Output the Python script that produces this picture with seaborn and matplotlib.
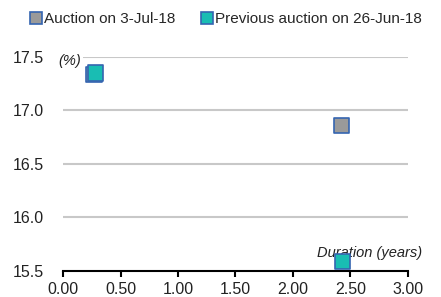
import matplotlib
matplotlib.use("Agg")
import matplotlib.pyplot as plt
from matplotlib.lines import Line2D
import seaborn as sns
import pandas as pd

# data
series_names = ["Auction on 3-Jul-18", "Previous auction on 26-Jun-18"]
duration_jul = [0.27, 2.42]
yield_jul = [17.34, 16.86]
duration_jun = [0.28, 2.43]
yield_jun = [17.35, 15.59]
x_ticks = [0.0, 0.5, 1.0, 1.5, 2.0, 2.5, 3.0]
y_ticks = [15.5, 16.0, 16.5, 17.0, 17.5]

df = pd.DataFrame({
    "Duration": duration_jul + duration_jun,
    "Yield": yield_jul + yield_jun,
    "Series": [series_names[0]] * len(duration_jul) + [series_names[1]] * len(duration_jun),
})

sns.set_style("white")
plt.rcParams["font.family"] = ["Liberation Sans", "DejaVu Sans"]

fig = plt.figure(figsize=(4.41, 2.97), dpi=100)
ax = fig.add_axes([0.143, 0.088, 0.782, 0.72])

palette = {series_names[0]: "#9a9a9a", series_names[1]: "#19bdb3"}
sns.scatterplot(data=df, x="Duration", y="Yield", hue="Series", palette=palette,
                marker="s", s=120, edgecolor="#3565b0", linewidth=1.2,
                ax=ax, zorder=3, legend=False)

ax.set_xlim(0, 3)
ax.set_ylim(15.5, 17.5)
ax.set_xticks(x_ticks)
ax.set_xticklabels([f"{v:.2f}" for v in x_ticks], fontsize=11.5, color="#222222")
ax.set_yticks(y_ticks)
ax.set_yticklabels([f"{v:.1f}" for v in y_ticks], fontsize=11.5, color="#222222")
ax.set_xlabel("")
ax.set_ylabel("")

for v in y_ticks[1:]:
    ax.axhline(v, color="#c8c8c8", lw=1.5, zorder=1)

for s in ["left", "right", "top"]:
    ax.spines[s].set_visible(False)
ax.spines["bottom"].set_color("black")
ax.spines["bottom"].set_linewidth(1.5)
ax.tick_params(axis="x", bottom=True, direction="out", length=4, width=1.5,
               color="black", pad=4)
ax.tick_params(axis="y", left=False, pad=10)
for c in ax.collections:
    c.set_clip_on(False)

ax.text(-0.04, 17.46, "(%)", style="italic", fontsize=10.5, ha="left", va="center",
        color="#222222", zorder=4,
        bbox=dict(facecolor="white", edgecolor="none", pad=1.5))
ax.text(3.12, 15.6, "Duration (years)", style="italic", fontsize=10.5, ha="right",
        va="bottom", color="#222222", zorder=2)

# legend
handles = [Line2D([], [], marker="s", ls="", markersize=8.5, markerfacecolor=palette[n],
                  markeredgecolor="#3565b0", markeredgewidth=1.2) for n in series_names]
fig.legend(handles, series_names, loc="upper left", bbox_to_anchor=(0.04, 1.0), ncol=2,
           frameon=False, fontsize=11, handlelength=0.8, handletextpad=0.1,
           columnspacing=1.7, borderaxespad=0.4)

fig.savefig("out.png", dpi=100)
